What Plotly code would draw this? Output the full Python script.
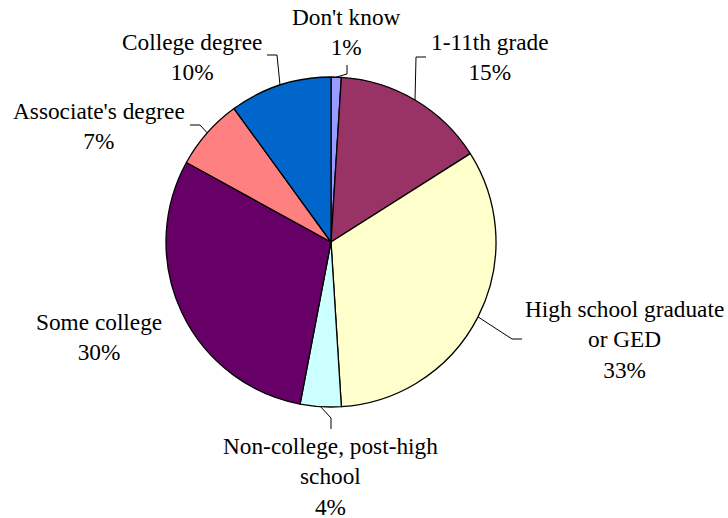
import math
import plotly.graph_objects as go

# Education level distribution (percent)
categories = [
    "Don't know",
    "1-11th grade",
    "High school graduate<br>or GED",
    "Non-college, post-high<br>school",
    "Some college",
    "Associate's degree",
    "College degree",
]
values = [1, 15, 33, 4, 30, 7, 10]
colors = ["#9999FF", "#993366", "#FFFFCC", "#CCFFFF", "#660066", "#FF8080", "#0066CC"]

W, H = 728, 518
CX, CY, R = 331, 242, 165  # pie centre and radius in pixels
FONT = "Liberation Serif"

# Label placement: (centre x, centre y, side the leader line attaches to, anchor point)
label_layout = [
    (346, 32, "bottom", (347, 65)),
    (490, 57, "left", (426, 57)),
    (624, 339, "left", (522, 339)),
    (330, 476, "top", (331, 429)),
    (99, 337, None, None),
    (99, 126, "right", (190, 125)),
    (192, 57, "right", (267, 55)),
]

fig = go.Figure()
fig.add_trace(go.Pie(
    labels=categories,
    values=values,
    sort=False,
    direction="clockwise",
    rotation=0,
    marker=dict(colors=colors, line=dict(color="black", width=1.3)),
    textinfo="none",
    hoverinfo="label+percent",
    showlegend=False,
    domain=dict(x=[(CX - R) / W, (CX + R) / W], y=[(H - CY - R) / H, (H - CY + R) / H]),
))

total = sum(values)
cum = 0.0
shapes = []
annotations = []
for val, name, (lx, ly, side, anchor) in zip(values, categories, label_layout):
    mid = (cum + val / 2) / total * 2 * math.pi
    cum += val
    pct = round(val / total * 100)
    annotations.append(dict(
        x=lx / W, y=1 - ly / H, xref="paper", yref="paper", text=f"{name}<br>{pct}%",
        showarrow=False, align="center", xanchor="center", yanchor="middle",
        font=dict(family=FONT, size=23.3, color="black"),
    ))
    if side is None:
        continue
    # leader line from the slice's outer edge (at its mid-angle) to the label
    px = CX + R * math.sin(mid)
    py = CY - R * math.cos(mid)
    ax, ay = anchor
    if side == "left":
        ex, ey = ax - 10, ay
    elif side == "right":
        ex, ey = ax + 10, ay
    elif side == "top":
        ex, ey = ax, ay - 11
    else:
        ex, ey = ax, ay + 9
    path = f"M {px:.1f} {py:.1f} L {ex:.1f} {ey:.1f} L {ax:.1f} {ay:.1f}"
    shapes.append(dict(type="path", path=path, xref="x", yref="y",
                       line=dict(color="black", width=1)))

fig.update_layout(
    width=W, height=H,
    margin=dict(l=0, r=0, t=0, b=0),
    font=dict(family=FONT, color="black"),
    paper_bgcolor="white", plot_bgcolor="rgba(0,0,0,0)",
    xaxis=dict(range=[0, W], visible=False, fixedrange=True),
    yaxis=dict(range=[H, 0], visible=False, fixedrange=True),
    shapes=shapes,
    annotations=annotations,
)

fig.write_html("out.html")
